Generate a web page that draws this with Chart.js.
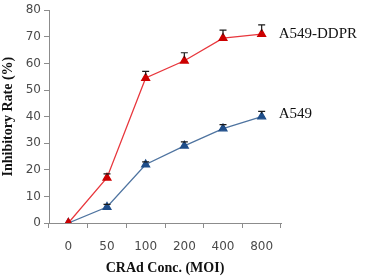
<!DOCTYPE html>
<html><head><meta charset="utf-8">
<script src="https://cdn.jsdelivr.net/npm/chart.js@4/dist/chart.umd.min.js"></script>
<style>html,body{margin:0;padding:0;background:#fff}#w{width:368px;height:279px}</style>
</head><body><div id="w"><canvas id="c"></canvas></div>
<script>
const categories = ['0','50','100','200','400','800'];
const ddprValues = [0, 17, 54.5, 61, 69.5, 71];
const ddprErrors = [0, 1.5, 2.5, 3, 3, 3.5];
const a549Values = [0, 6, 22, 29, 35.5, 40];
const a549Errors = [0, 1, 1, 1.5, 1.5, 2];
const yTicks = [0,10,20,30,40,50,60,70,80];

const errorPlugin = {
  id:'errs',
  afterDatasetsDraw(chart){
    const ctx = chart.ctx, y = chart.scales.y;
    chart.data.datasets.forEach((ds,di)=>{
      const meta = chart.getDatasetMeta(di);
      ds.errors.forEach((e,i)=>{
        if(!e) return;
        const pt = meta.data[i];
        const x = pt.x, y0 = y.getPixelForValue(ds.data[i]), y1 = y.getPixelForValue(ds.data[i]+e);
        ctx.save(); ctx.strokeStyle='#1a1a1a'; ctx.lineWidth=1.2;
        ctx.beginPath(); ctx.moveTo(x,y0-3); ctx.lineTo(x,y1); ctx.moveTo(x-3.5,y1); ctx.lineTo(x+3.5,y1); ctx.stroke();
        ctx.restore();
      });
    });
  }
};
const labelPlugin = {
  id:'lbls',
  afterDraw(chart){
    const ctx = chart.ctx;
    ctx.save(); ctx.font='15px "Liberation Serif"'; ctx.fillStyle='#111'; ctx.textBaseline='middle';
    chart.data.datasets.forEach((ds,di)=>{
      const meta = chart.getDatasetMeta(di);
      const pt = meta.data[meta.data.length-1];
      ctx.fillText(ds.label, pt.x+17, pt.y + ds.labelDy);
    });
    ctx.restore();
  }
};

new Chart(document.getElementById('c'), {
  type:'line',
  data:{labels:categories, datasets:[
    {label:'A549-DDPR', data:ddprValues, errors:ddprErrors, labelDy:0, borderColor:'#e8373d', backgroundColor:'#cc0000', pointBackgroundColor:'#cc0000', pointBorderColor:'#cc0000', borderWidth:1.3, pointStyle:'triangle', pointRadius:4.5, tension:0},
    {label:'A549', data:a549Values, errors:a549Errors, labelDy:-3, borderColor:'#4f74a0', backgroundColor:'#1f4e8a', pointBackgroundColor:'#1f4e8a', pointBorderColor:'#1f4e8a', borderWidth:1.3, pointStyle:'triangle', pointRadius:4.5, tension:0}
  ]},
  options:{
    responsive:true, maintainAspectRatio:false, animation:false,
    layout:{padding:{top:1,right:87,left:0,bottom:0}},
    plugins:{legend:{display:false}, tooltip:{enabled:false}},
    scales:{
      x:{offset:true, grid:{display:true, drawOnChartArea:false, drawTicks:true, tickLength:5, color:'#8c8c8c', offset:true},
         border:{color:'#8c8c8c'},
         ticks:{color:'#4a4a4a', font:{family:'DejaVu Sans', size:12}, padding:12},
         title:{display:true, text:'CRAd Conc. (MOI)', color:'#111', font:{family:'Liberation Serif', size:14, weight:'bold'}, padding:{top:7,bottom:2}},
         afterFit(s){s.height=56;}},
      y:{min:0,max:80, afterBuildTicks(s){s.ticks=yTicks.map(v=>({value:v}));},
         grid:{display:true, drawOnChartArea:false, tickLength:5, color:'#8c8c8c'},
         border:{color:'#8c8c8c'},
         ticks:{color:'#4a4a4a', font:{family:'DejaVu Sans', size:12}, padding:3},
         title:{display:true, text:'Inhibitory Rate (%)', color:'#111', font:{family:'Liberation Serif', size:14, weight:'bold'}, padding:{top:0,bottom:1}},
         afterFit(s){s.width=49;}}
    }
  },
  plugins:[errorPlugin, labelPlugin]
});
</script></body></html>
